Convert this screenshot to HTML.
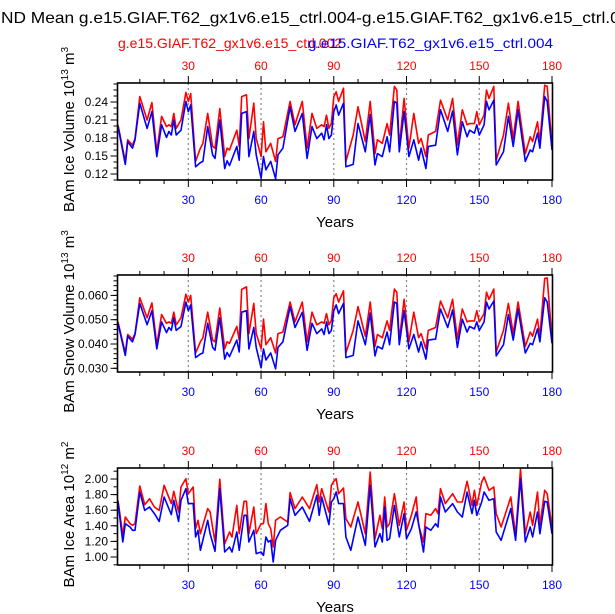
<!DOCTYPE html>
<html><head><meta charset="utf-8"><style>
html,body{margin:0;padding:0;background:#fff;}
svg{display:block;font-family:"Liberation Sans",Helvetica,Arial,sans-serif;}
</style></head><body>
<svg id="chart" width="615" height="614" viewBox="0 0 615 614" xmlns="http://www.w3.org/2000/svg">
<text x="1" y="23" font-size="16" textLength="638" lengthAdjust="spacingAndGlyphs">ND Mean g.e15.GIAF.T62_gx1v6.e15_ctrl.004-g.e15.GIAF.T62_gx1v6.e15_ctrl.004</text>
<text x="118" y="48" font-size="14" fill="#ff0000">g.e15.GIAF.T62_gx1v6.e15_ctrl.002</text>
<text x="308" y="48" font-size="14" fill="#0000ff" textLength="245" lengthAdjust="spacingAndGlyphs">g.e15.GIAF.T62_gx1v6.e15_ctrl.004</text>
<g id="panels"></g>
</svg>
<script>
// ---- Panel 1: BAm Ice Volume ----
const p1Years = [1,4,5,7,8,10,13,15,17,19,21,22,23,24,25,27,29,30,31,33,35,36,38,40,41,43,45,46,47,50,51,52,54,55,57,58,60,61,62,64,66,67,69,72,74,77,79,81,83,85,86,87,88,89,90,
 91,92,94,95,98,100,103,105,107,108,110,112,113,115,116,117,119,121,123,125,126,128,129,132,134,137,139,141,143,145,146,148,149,150,152,153,154,156,157,160,162,164,166,169,171,172,174,175,177,178,180];
const p1Blue = [.199,.136,.174,.163,.177,.238,.196,.224,.149,.202,.181,.191,.185,.210,.185,.193,.241,.224,.235,.132,.139,.141,.199,.152,.146,.210,.129,.142,.134,.166,.143,.221,.224,.149,.191,.152,.113,.149,.127,.141,.112,.152,.163,.232,.191,.221,.146,.199,.179,.188,.177,.202,.179,.185,.224,
 .235,.218,.238,.132,.136,.204,.157,.219,.135,.154,.149,.182,.157,.241,.238,.157,.224,.149,.177,.143,.163,.129,.166,.168,.227,.191,.225,.152,.207,.182,.193,.188,.202,.185,.202,.241,.227,.243,.135,.157,.216,.166,.227,.141,.160,.157,.188,.163,.249,.241,.160];
const p1Red = [.202,.141,.177,.168,.179,.249,.210,.239,.157,.216,.199,.202,.199,.221,.196,.210,.256,.241,.254,.141,.163,.171,.221,.166,.163,.229,.149,.163,.160,.193,.166,.249,.252,.179,.238,.179,.149,.207,.157,.171,.141,.179,.182,.241,.202,.241,.163,.221,.196,.202,.199,.218,.196,.205,.249,
 .257,.241,.263,.141,.185,.232,.174,.241,.154,.177,.171,.204,.185,.266,.260,.166,.246,.163,.221,.171,.179,.149,.185,.191,.243,.210,.246,.168,.227,.202,.204,.204,.224,.202,.218,.260,.246,.266,.143,.185,.238,.179,.241,.154,.182,.174,.207,.174,.268,.266,.168];
const p1Ticks = ["0.12","0.15","0.18","0.21","0.24"];

// ---- Panel 2: BAm Snow Volume ----
const p2Years = p1Years;
const p2Blue = [.0485,.0353,.0432,.0409,.0439,.0567,.0479,.0537,.0380,.0491,.0447,.0468,.0456,.0508,.0456,.0472,.0573,.0537,.0561,.0344,.0359,.0363,.0485,.0386,.0374,.0508,.0338,.0365,.0348,.0416,.0367,.0531,.0537,.0380,.0468,.0386,.0302,.0380,.0334,.0363,.0298,.0386,.0409,.0554,.0468,.0531,.0374,.0485,.0443,.0462,.0439,.0491,.0443,.0456,.0537,
 .0561,.0525,.0567,.0344,.0353,.0495,.0397,.0527,.0351,.0390,.0380,.0449,.0397,.0573,.0567,.0397,.0537,.0380,.0439,.0367,.0409,.0338,.0416,.0420,.0544,.0468,.0540,.0386,.0502,.0449,.0472,.0462,.0491,.0456,.0491,.0573,.0544,.0577,.0351,.0397,.0521,.0416,.0544,.0363,.0403,.0397,.0462,.0409,.0590,.0573,.0403];
const p2Red = [.0491,.0363,.0439,.0420,.0443,.0590,.0508,.0569,.0397,.0521,.0485,.0491,.0485,.0531,.0479,.0508,.0605,.0573,.0600,.0363,.0409,.0426,.0531,.0416,.0409,.0548,.0380,.0409,.0403,.0472,.0416,.0625,.0635,.0443,.0567,.0443,.0380,.0502,.0397,.0426,.0363,.0443,.0449,.0573,.0491,.0573,.0409,.0531,.0479,.0491,.0485,.0525,.0479,.0497,.0590,
 .0607,.0573,.0619,.0363,.0456,.0554,.0432,.0573,.0390,.0439,.0426,.0495,.0456,.0626,.0613,.0416,.0584,.0409,.0531,.0426,.0443,.0380,.0456,.0468,.0577,.0508,.0584,.0420,.0544,.0491,.0495,.0495,.0537,.0491,.0525,.0613,.0584,.0626,.0367,.0456,.0567,.0443,.0573,.0390,.0449,.0432,.0502,.0432,.0670,.0672,.0420];
const p2Ticks = ["0.030","0.040","0.050","0.060"];

// ---- Panel 3: BAm Ice Area ----
const p3Years = [1,3,4,6,7,8,10,12,14,16,18,20,23,24,26,27,29,30,32,33,34,35,38,39,41,43,45,47,48,50,51,53,54,55,57,58,60,61,62,63,64,65,66,68,71,72,74,77,80,83,84,85,88,89,90,
 91,92,94,95,97,100,103,105,107,109,110,111,112,113,115,117,119,120,122,124,125,127,128,130,132,133,134,136,139,141,143,145,147,148,149,151,152,154,156,157,159,163,165,167,169,171,172,174,175,177,178,180];
const p3Blue = [1.705,1.192,1.427,1.385,1.342,1.342,1.833,1.598,1.641,1.556,1.457,1.769,1.543,1.727,1.457,1.727,1.876,1.684,1.684,1.256,1.342,1.086,1.470,1.299,1.073,1.876,1.064,1.128,1.064,1.321,1.086,1.534,1.534,1.192,1.342,1.043,1.064,1.021,1.256,1.192,1.214,0.936,1.214,1.342,1.406,1.748,1.534,1.641,1.457,1.791,1.534,1.769,1.415,1.705,1.748,
 1.833,1.684,1.684,1.256,1.086,1.513,1.150,1.919,1.128,1.299,1.192,1.641,1.214,1.235,1.662,1.256,1.556,1.235,1.363,1.577,1.427,1.064,1.385,1.342,1.427,1.385,1.769,1.577,1.684,1.577,1.513,1.833,1.556,1.727,1.534,1.705,1.833,1.727,1.748,1.321,1.214,1.620,1.214,2.004,1.192,1.385,1.256,1.577,1.299,1.714,1.705,1.299];
const p3Red = [1.727,1.278,1.513,1.427,1.406,1.427,1.910,1.671,1.748,1.641,1.598,1.919,1.684,1.842,1.577,1.897,2.004,1.812,1.897,1.363,1.470,1.299,1.620,1.577,1.192,1.996,1.171,1.321,1.256,1.662,1.299,1.714,1.714,1.299,1.641,1.299,1.427,1.427,1.684,1.427,1.363,1.128,1.470,1.513,1.449,1.825,1.620,1.769,1.620,1.927,1.705,1.876,1.577,1.919,1.970,
 2.004,1.812,1.885,1.491,1.385,1.705,1.299,2.090,1.235,1.534,1.363,1.769,1.385,1.427,1.812,1.406,1.705,1.342,1.534,1.769,1.406,1.192,1.556,1.534,1.620,1.556,1.876,1.684,1.812,1.705,1.705,1.970,1.662,1.855,1.662,1.962,2.026,1.855,1.897,1.556,1.385,1.769,1.278,2.124,1.299,1.577,1.406,1.833,1.406,1.855,1.812,1.385];
const p3Ticks = ["1.00","1.20","1.40","1.60","1.80","2.00"];

const xTickLabels = ["30","60","90","120","150","180"];

const NS = "http://www.w3.org/2000/svg";
const root = document.getElementById("panels");
function mk(tag, attrs, parent){ const e=document.createElementNS(NS,tag); for(const k in attrs) e.setAttribute(k,attrs[k]); (parent||root).appendChild(e); return e; }

const X0 = 117.5, X1 = 552.5;
function xScale(yr){ return 118 + (yr-1)*(552-118)/179; }

const panels = [
 {key:"ice-volume", top:83, bot:180, v0:0.12, p0:174, v1:0.24, p1:102, minor:0.01, years:p1Years, blue:p1Blue, red:p1Red, ticks:p1Ticks, title:["BAm Ice Volume 10","13"," m","3"]},
 {key:"snow-volume", top:275, bot:372, v0:0.030, p0:368.3, v1:0.060, p1:295.4, minor:0.002, years:p2Years, blue:p2Blue, red:p2Red, ticks:p2Ticks, title:["BAm Snow Volume 10","13"," m","3"]},
 {key:"ice-area", top:468, bot:565, v0:1.00, p0:557, v1:2.00, p1:479, minor:0.1, years:p3Years, blue:p3Blue, red:p3Red, ticks:p3Ticks, title:["BAm Ice Area 10","12"," m","2"]}
];

panels.forEach((P, idx) => {
  const yScale = v => P.p0 + (v-P.v0)*(P.p1-P.p0)/(P.v1-P.v0);
  const g = mk("g", {});
  
  
  const clipId = "clip"+idx;
  const cp = mk("clipPath", {id:clipId}, g);
  mk("rect", {x:X0, y:P.top, width:X1-X0, height:P.bot-P.top}, cp);
  [30,60,90,120,150].forEach(yr => {
    const l = mk("line", {x1:xScale(yr), x2:xScale(yr), y1:P.top, y2:P.bot, stroke:"#888", "stroke-width":1.2, "stroke-dasharray":"2,3"}, g);
    
    
  });
  [["red", P.red, "#ff0000"], ["blue", P.blue, "#0000ff"]].forEach(([nm, vals, col]) => {
    const d = P.years.map((yr,i) => (i?"L":"M") + xScale(yr).toFixed(1) + "," + yScale(vals[i]).toFixed(1)).join("");
    const path = mk("path", {d:d, fill:"none", stroke:col, "stroke-width":1.6, "stroke-linejoin":"round", "clip-path":"url(#"+clipId+")"}, g);
    
    
  });
  const fr = mk("rect", {x:X0, y:P.top, width:X1-X0, height:P.bot-P.top, fill:"none", stroke:"#000", "stroke-width":1.6}, g);
  
  
  for (let yr=10; yr<=180; yr+=10) {
    const major = yr%30===0, len = major?7:4;
    mk("line", {x1:xScale(yr), x2:xScale(yr), y1:P.top, y2:P.top-len, stroke:"#000", "stroke-width":1}, g);
    mk("line", {x1:xScale(yr), x2:xScale(yr), y1:P.bot, y2:P.bot+len, stroke:"#000", "stroke-width":1}, g);
  }
  xTickLabels.forEach(lbl => {
    const yr = +lbl;
    const t1 = mk("text", {x:xScale(yr), y:P.top-13, "font-size":12, fill:"#ff0000", "text-anchor":"middle"}, g);
    t1.textContent = lbl;
    
    
    const t2 = mk("text", {x:xScale(yr), y:P.bot+24, "font-size":12, fill:"#0000ff", "text-anchor":"middle"}, g);
    t2.textContent = lbl;
    
    
  });
  const xt = mk("text", {x:335, y:P.bot+47, "font-size":15, "text-anchor":"middle"}, g);
  xt.textContent = "Years";
  
  
  const vMin = P.v0 + (P.bot-P.p0)/(P.p1-P.p0)*(P.v1-P.v0);
  const vMax = P.v0 + (P.top-P.p0)/(P.p1-P.p0)*(P.v1-P.v0);
  for (let k=Math.ceil(vMin/P.minor-1e-6); k*P.minor<=vMax+1e-9; k++) {
    const y = yScale(k*P.minor);
    mk("line", {x1:X0, x2:X0-4, y1:y, y2:y, stroke:"#000", "stroke-width":1}, g);
  }
  P.ticks.forEach(lbl => {
    const y = yScale(parseFloat(lbl));
    mk("line", {x1:X0, x2:X0-7, y1:y, y2:y, stroke:"#000", "stroke-width":1}, g);
    const t = mk("text", {x:108, y:y+4, "font-size":12, "text-anchor":"end"}, g);
    t.textContent = lbl;
    
    
  });
  const cy = (P.top+P.bot)/2 - 2;
  const yt = mk("text", {x:0, y:0, "font-size":15, "text-anchor":"middle", transform:"translate(74,"+cy+") rotate(-90)"}, g);
  
  
  const parts = P.title;
  const s1 = mk("tspan", {}, yt); s1.textContent = parts[0];
  const s2 = mk("tspan", {dy:-6, "font-size":10}, yt); s2.textContent = parts[1];
  const s3 = mk("tspan", {dy:6}, yt); s3.textContent = parts[2];
  const s4 = mk("tspan", {dy:-6, "font-size":10}, yt); s4.textContent = parts[3];
});
</script>
</body></html>
